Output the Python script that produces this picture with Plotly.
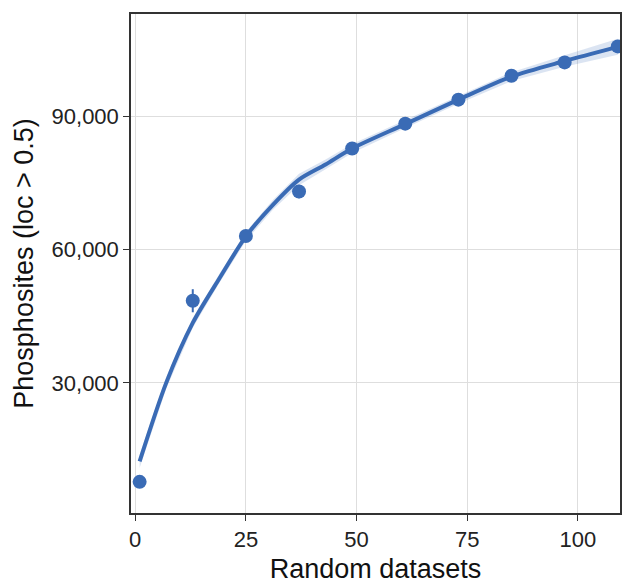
import plotly.graph_objects as go

# observed points
datasets = [1, 13, 25, 37, 49, 61, 73, 85, 97, 109]
phosphosites = [7700, 48500, 63100, 73100, 82800, 88400, 93800, 99200, 102200, 105800]
err = [600, 2600, 900, 1500, 700, 700, 600, 600, 600, 700]

# fitted curve
fit_x = [1, 7, 13, 19, 25, 31, 37, 43, 49, 61, 73, 85, 97, 109]
fit_y = [12300, 30000, 43500, 53500, 63000, 70000, 75800, 79200, 82800, 88300, 93800, 99000, 102500, 105700]
fit_ci = [1500, 1300, 1100, 1000, 1000, 1100, 1300, 1100, 1000, 900, 900, 1000, 1300, 1800]

x_ticks = [0, 25, 50, 75, 100]
y_ticks = [30000, 60000, 90000]
y_tick_labels = ["30,000", "60,000", "90,000"]

blue = "#3A6BB5"

fig = go.Figure()
fig.add_trace(go.Scatter(
    x=fit_x + fit_x[::-1],
    y=[a + b for a, b in zip(fit_y, fit_ci)] + [a - b for a, b in zip(fit_y, fit_ci)][::-1],
    fill="toself", fillcolor="rgba(58,107,181,0.18)", line=dict(width=0),
    mode="lines", hoverinfo="skip", showlegend=False,
))
fig.add_trace(go.Scatter(
    x=fit_x, y=fit_y, mode="lines", line=dict(color=blue, width=4, shape="spline", smoothing=0.8),
    showlegend=False,
))
fig.add_trace(go.Scatter(
    x=datasets, y=phosphosites, mode="markers",
    marker=dict(color=blue, size=14),
    error_y=dict(type="data", array=err, visible=True, width=0, thickness=2, color=blue),
    showlegend=False,
))

font_family = "Liberation Sans, Arial, sans-serif"
fig.update_layout(
    width=622, height=584,
    margin=dict(l=131, r=0, t=14, b=71),
    paper_bgcolor="white", plot_bgcolor="white",
    font=dict(family=font_family, color="#222"),
    xaxis=dict(
        range=[-0.95, 109.5], tickvals=x_ticks, ticks="outside", ticklen=6, tickcolor="#333",
        tickfont=dict(size=22, color="#222"), showgrid=True, gridcolor="#DEDEDE", gridwidth=1,
        showline=True, linecolor="#333", linewidth=1.5, mirror=True, zeroline=False,
        automargin=False,
        title=dict(text="Random datasets", font=dict(size=27, color="#111"), standoff=16),
    ),
    yaxis=dict(
        range=[680, 113100], tickvals=y_ticks, ticktext=y_tick_labels, ticks="outside", ticklen=6,
        tickcolor="#333", tickfont=dict(size=22, color="#222"), showgrid=True, gridcolor="#DEDEDE",
        gridwidth=1, showline=True, linecolor="#333", linewidth=1.5, mirror=True, zeroline=False,
        title=dict(text="Phosphosites (loc > 0.5)", font=dict(size=27, color="#111"), standoff=10),
    ),
)
fig.write_html("out.html")
